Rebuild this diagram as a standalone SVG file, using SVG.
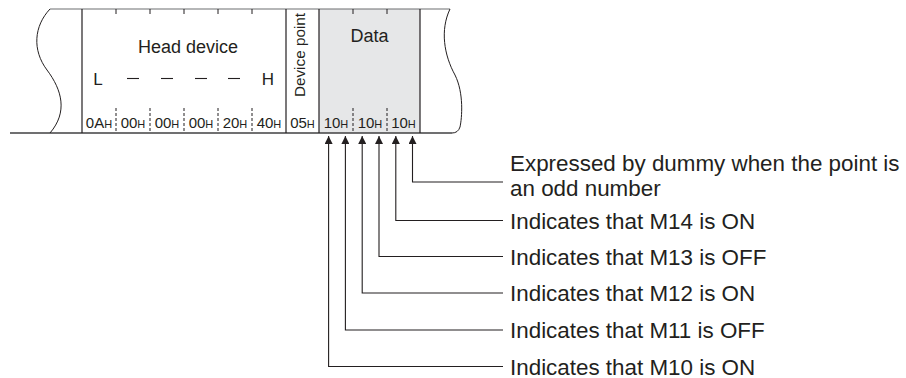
<svg xmlns="http://www.w3.org/2000/svg" width="906" height="378" viewBox="0 0 906 378">
<style>
  text { font-family: "Liberation Sans", Arial, sans-serif; fill: #231f20; }
  .frame { fill: none; stroke: #231f20; stroke-width: 1.2; }
  .top { fill: none; stroke: #6d6e71; stroke-width: 1.2; }
  .bottom { fill: none; stroke: #414042; stroke-width: 1.6; }
  .wave { fill: none; stroke: #231f20; stroke-width: 1; }
  .tick { stroke: #231f20; stroke-width: 1; }
  .dtick { stroke: #231f20; stroke-width: 1; stroke-dasharray: 3 2; }
  .hex { font-size: 15px; text-anchor: middle; }
  .hex tspan.s { font-size: 11px; }
  .lbl { font-size: 22.4px; }
  .conn { fill: none; stroke: #231f20; stroke-width: 1.1; marker-end: url(#arr); }
</style>
<defs>
  <marker id="arr" viewBox="0 0 10 10" refX="10" refY="5" markerWidth="8" markerHeight="8" markerUnits="userSpaceOnUse" orient="auto">
    <path d="M0,0 L10,5 L0,10 Z" fill="#231f20"/>
  </marker>
</defs>

<g id="record">
  <rect x="319" y="9" width="101" height="124" fill="#e6e7e8"/>
  <line class="top" x1="50" y1="9" x2="450" y2="9"/>
  <path class="bottom" d="M10,133 H452"/>
  <path class="wave" d="M50,9 C34,26 32,50 47,70 C62,90 68,112 50,133"/>
  <path class="wave" d="M450,9 C440,30 444,55 455,75 C464,93 462,118 460,127 Q458,133 452,133"/>
  <line class="frame" x1="82" y1="9" x2="82" y2="133"/>
  <line class="frame" x1="286" y1="9" x2="286" y2="133"/>
  <line class="frame" x1="319" y1="9" x2="319" y2="133"/>
  <line class="frame" x1="420" y1="9" x2="420" y2="133"/>
  <g id="ticks">
    <line class="tick" x1="116" y1="9" x2="116" y2="14"/>
    <line class="tick" x1="150" y1="9" x2="150" y2="14"/>
    <line class="tick" x1="184" y1="9" x2="184" y2="14"/>
    <line class="tick" x1="218" y1="9" x2="218" y2="14"/>
    <line class="tick" x1="252" y1="9" x2="252" y2="14"/>
    <line class="tick" x1="353" y1="9" x2="353" y2="14"/>
    <line class="tick" x1="387" y1="9" x2="387" y2="14"/>
    <line class="dtick" x1="116" y1="108" x2="116" y2="133"/>
    <line class="dtick" x1="150" y1="108" x2="150" y2="133"/>
    <line class="dtick" x1="184" y1="108" x2="184" y2="133"/>
    <line class="dtick" x1="218" y1="108" x2="218" y2="133"/>
    <line class="dtick" x1="252" y1="108" x2="252" y2="133"/>
    <line class="dtick" x1="353" y1="108" x2="353" y2="133"/>
    <line class="dtick" x1="387" y1="108" x2="387" y2="133"/>
  </g>
</g>

<g id="head-device">
  <text x="188" y="53" font-size="18" text-anchor="middle">Head device</text>
  <text x="98" y="85" font-size="17" text-anchor="middle">L</text>
  <text x="268" y="85" font-size="17" text-anchor="middle">H</text>
  <g stroke="#231f20" stroke-width="1.1">
    <line x1="127" y1="78.5" x2="139" y2="78.5"/>
    <line x1="161" y1="78.5" x2="173" y2="78.5"/>
    <line x1="195" y1="78.5" x2="207" y2="78.5"/>
    <line x1="228" y1="78.5" x2="240" y2="78.5"/>
  </g>
</g>

<g id="device-point">
  <text transform="translate(305,55) rotate(-90)" font-size="15.3" text-anchor="middle">Device point</text>
</g>

<g id="data">
  <text x="369.5" y="42" font-size="18" text-anchor="middle">Data</text>
</g>

<g id="hex-values">
  <text class="hex" x="99" y="128">0A<tspan class="s">H</tspan></text>
  <text class="hex" x="133" y="128">00<tspan class="s">H</tspan></text>
  <text class="hex" x="167" y="128">00<tspan class="s">H</tspan></text>
  <text class="hex" x="201" y="128">00<tspan class="s">H</tspan></text>
  <text class="hex" x="235" y="128">20<tspan class="s">H</tspan></text>
  <text class="hex" x="269" y="128">40<tspan class="s">H</tspan></text>
  <text class="hex" x="302.5" y="128">05<tspan class="s">H</tspan></text>
  <text class="hex" x="336" y="128">10<tspan class="s">H</tspan></text>
  <text class="hex" x="370" y="128">10<tspan class="s">H</tspan></text>
  <text class="hex" x="403.5" y="128">10<tspan class="s">H</tspan></text>
</g>

<g id="connectors">
  <path class="conn" d="M503,182 H412.5 V136"/>
  <path class="conn" d="M503,220.5 H395.8 V136"/>
  <path class="conn" d="M503,256.5 H379 V136"/>
  <path class="conn" d="M503,293 H362.2 V136"/>
  <path class="conn" d="M503,330 H345.4 V136"/>
  <path class="conn" d="M503,366.5 H328.6 V136"/>
</g>

<g id="label-dummy">
  <text class="lbl" x="510" y="171">Expressed by dummy when the point is</text>
  <text class="lbl" x="510" y="196">an odd number</text>
</g>
<g id="label-m14"><text class="lbl" x="510" y="228.5">Indicates that M14 is ON</text></g>
<g id="label-m13"><text class="lbl" x="510" y="264.5">Indicates that M13 is OFF</text></g>
<g id="label-m12"><text class="lbl" x="510" y="301">Indicates that M12 is ON</text></g>
<g id="label-m11"><text class="lbl" x="510" y="338">Indicates that M11 is OFF</text></g>
<g id="label-m10"><text class="lbl" x="510" y="374.5">Indicates that M10 is ON</text></g>
</svg>
